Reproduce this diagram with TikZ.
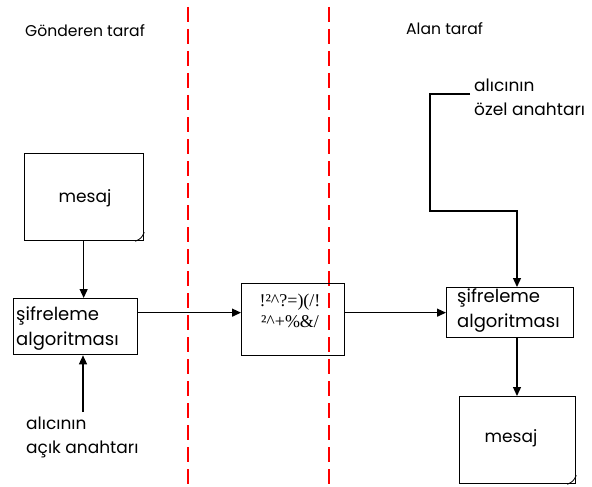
\documentclass[tikz,border=0pt]{standalone}
\usepackage{fontspec}
\setmainfont{Poppins}
\newfontfamily\cipherfont{Liberation Serif}
\usetikzlibrary{arrows.meta}
\begin{document}
\begin{tikzpicture}[x=1pt,y=-1pt,
  every node/.style={font=\fontsize{17}{20}\selectfont, inner sep=0pt},
  head/.style={anchor=west, font=\fontsize{15.6}{18}\selectfont},
  box/.style={draw, line width=1.3pt, anchor=north west},
  lbl/.style={anchor=west},
  boxtxt/.style={anchor=west, font=\fontsize{18}{20}\selectfont},
  ciph/.style={font=\cipherfont\fontsize{18}{20}\selectfont},
  arr/.style={line width=1.3pt, -{Triangle[width=8pt,length=9pt]}},
  fold/.style={line width=0.8pt},
  reddash/.style={draw=red, line width=1.3pt, dash pattern=on 15pt off 7pt}]
\useasboundingbox (0,0) rectangle (592,487);
% separators
\draw[reddash] (188,7) -- (188,487);
\draw[reddash] (329,7) -- (329,487);
% headings
\node[head] (hL) at (25,31) {Gönderen taraf};
\node[head] (hR) at (406,29) {Alan taraf};
% left side
\node[box, minimum width=119pt, minimum height=87pt] (mesajL) at (24,153) {};
\node (mesajLt) at (85,198) {mesaj};
\draw[fold] ([xshift=-9pt]mesajL.south east) .. controls ([xshift=-3pt,yshift=3pt]mesajL.south east) .. ([yshift=9pt]mesajL.south east);
\node[box, minimum width=124pt, minimum height=56pt] (algoL) at (13,298) {};
\node[boxtxt] (algoL1) at (16,316) {şifreleme};
\node[boxtxt] (algoL2) at (16,341) {algoritması};
\coordinate (keyL) at (83,412);
\node[lbl] (keyL1) at (26,423) {alıcının};
\node[lbl] (keyL2) at (26,449) {açık anahtarı};
% middle
\node[box, minimum width=103pt, minimum height=72pt] (cipher) at (241,283) {};
\node[ciph] (c1) at (290,302) {!²\textasciicircum?=)(/!};
\node[ciph] (c2) at (290,322) {²\textasciicircum+\%\&/};
% right side
\node[lbl] (keyR1) at (474,85) {alıcının};
\node[lbl] (keyR2) at (474,109) {özel anahtarı};
\coordinate (keyR) at (470,94);
\coordinate (bendA) at (430,211);
\coordinate (bendB) at (517,211);
\node[box, minimum width=127pt, minimum height=50pt] (algoR) at (446,287) {};
\node[boxtxt] (algoR1) at (457,298) {şifreleme};
\node[boxtxt] (algoR2) at (457,323) {algoritması};
\node[box, minimum width=116pt, minimum height=87pt] (mesajR) at (459,396) {};
\node (mesajRt) at (511,438) {mesaj};
\draw[fold] ([xshift=-9pt]mesajR.south east) .. controls ([xshift=-3pt,yshift=3pt]mesajR.south east) .. ([yshift=9pt]mesajR.south east);
% connectors
\draw[arr] ([xshift=-0.5pt]mesajL.south) -- ([xshift=-0.5pt]mesajL.south |- algoL.north);
\draw[arr] (keyL) -- (keyL |- algoL.south);
\draw[arr] (algoL.east |- algoR.west) -- (cipher.west |- algoR.west);
\draw[arr] (cipher.east |- algoR.west) -- (algoR.west);
\draw[arr] (keyR) -| (bendA) -- (bendB) -- (bendB |- algoR.north);
\draw[arr] (bendB |- algoR.south) -- (bendB |- mesajR.north);
\end{tikzpicture}
\end{document}
